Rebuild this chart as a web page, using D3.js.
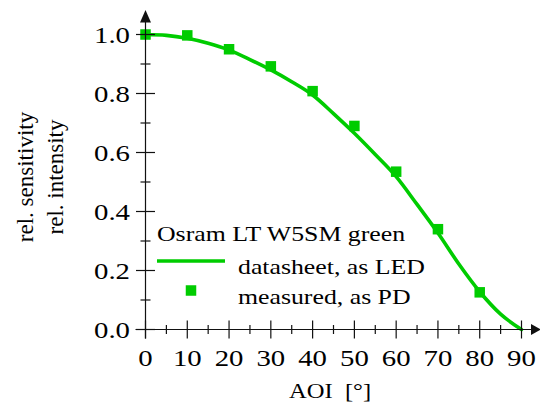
<!DOCTYPE html>
<html>
<head>
<meta charset="utf-8">
<script src="https://cdn.jsdelivr.net/npm/d3@7/dist/d3.min.js"></script>
<style>
  html, body { margin: 0; padding: 0; background: #fff; }
  svg { display: block; font-family: "Liberation Serif", "Times New Roman", serif; }
</style>
</head>
<body>
<svg id="chart" width="540" height="405"></svg>
<script>
// ---- data ----
const curveAOI = [0, 5, 10, 15, 20, 25, 30, 35, 40, 45, 50, 55, 60, 65, 70, 75, 80, 85, 90];
const curveValues = [1.0, 0.997, 0.987, 0.970, 0.947, 0.915, 0.880, 0.840, 0.795, 0.732, 0.665, 0.593, 0.518, 0.424, 0.327, 0.222, 0.128, 0.052, 0.0];
const measuredAOI = [0, 10, 20, 30, 40, 50, 60, 70, 80];
const measuredValues = [1.0, 0.997, 0.950, 0.892, 0.808, 0.690, 0.535, 0.340, 0.126];
const xTicks = [0, 10, 20, 30, 40, 50, 60, 70, 80, 90];
const yTicks = [0.0, 0.2, 0.4, 0.6, 0.8, 1.0];
const legendTitle = "Osram LT W5SM green";
const legendLine = "datasheet, as LED";
const legendSquare = "measured, as PD";
const xLabel = "AOI  [°]";
const yLabel1 = "rel. sensitivity";
const yLabel2 = "rel. intensity";

const green = "#00cc00";
const stretch = 1.2;
const svg = d3.select("#chart");
const x = d3.scaleLinear().domain([0, 90]).range([145.5, 521.5]);
const y = d3.scaleLinear().domain([0, 1]).range([329.5, 34.5]);

// horizontally stretched text helper
function stext(g, tx, ty, size, anchor, str) {
  return g.append("text")
    .attr("transform", `translate(${tx},${ty}) scale(${stretch},1)`)
    .attr("font-size", size).attr("text-anchor", anchor)
    .attr("xml:space", "preserve").style("white-space", "pre")
    .text(str);
}

// curve
const line = d3.line().x((d, i) => x(curveAOI[i])).y(d => y(d)).curve(d3.curveMonotoneX);
svg.append("path").datum(curveValues)
  .attr("d", line).attr("fill", "none").attr("stroke", green).attr("stroke-width", 3.6)
  .attr("stroke-linecap", "round");

// measured squares
const sq = 10.5;
svg.append("g").selectAll("rect").data(measuredValues).join("rect")
  .attr("x", (d, i) => x(measuredAOI[i]) - sq / 2)
  .attr("y", d => y(d) - sq / 2)
  .attr("width", sq).attr("height", sq).attr("fill", green);

// axes
const axisColor = "#111";
const ax = svg.append("g").attr("stroke", axisColor).attr("stroke-width", 1.2);
const x0 = x(0), y0 = y(0);
ax.append("line").attr("x1", x0 - 10).attr("x2", 533).attr("y1", y0).attr("y2", y0);
svg.append("path").attr("d", `M531,${y0 - 5.5}L541,${y0}L531,${y0 + 5.5}Z`).attr("fill", axisColor);
ax.append("line").attr("x1", x0).attr("x2", x0).attr("y1", y0 + 9).attr("y2", 20);
svg.append("path").attr("d", `M${x0 - 5.5},22.5L${x0},10L${x0 + 5.5},22.5Z`).attr("fill", axisColor);

const xMinor = d3.range(5, 90, 10);
ax.selectAll(".xmaj").data(xTicks).join("line").attr("class", "xmaj")
  .attr("x1", d => x(d)).attr("x2", d => x(d)).attr("y1", y0 - 9).attr("y2", y0 + 9);
ax.selectAll(".xmin").data(xMinor).join("line").attr("class", "xmin")
  .attr("x1", d => x(d)).attr("x2", d => x(d)).attr("y1", y0 - 4.5).attr("y2", y0 + 4.5);
const yMinor = d3.range(0.1, 1.0, 0.2);
ax.selectAll(".ymaj").data(yTicks).join("line").attr("class", "ymaj")
  .attr("x1", x0 - 9.5).attr("x2", x0 + 9.5).attr("y1", d => y(d)).attr("y2", d => y(d));
ax.selectAll(".ymin").data(yMinor).join("line").attr("class", "ymin")
  .attr("x1", x0 - 5).attr("x2", x0 + 5).attr("y1", d => y(d)).attr("y2", d => y(d));

// tick labels
const gx = svg.append("g");
xTicks.forEach(d => stext(gx, x(d), 365.5, 24, "middle", String(d)));
const gy = svg.append("g");
yTicks.forEach(d => stext(gy, 130, y(d) + 8.3, 24, "end", d.toFixed(1)));

// axis labels
stext(svg, 330, 398, 20.5, "middle", xLabel);
svg.append("text").attr("transform", "translate(33,177) rotate(-90)").attr("text-anchor", "middle")
  .attr("font-size", 23).text(yLabel1);
svg.append("text").attr("transform", "translate(63,177) rotate(-90)").attr("text-anchor", "middle")
  .attr("font-size", 23).text(yLabel2);

// legend
stext(svg, 157, 241, 21.5, "start", legendTitle);
svg.append("line").attr("x1", 157).attr("x2", 225).attr("y1", 261).attr("y2", 261)
  .attr("stroke", green).attr("stroke-width", 3.6);
stext(svg, 238, 274, 21.5, "start", legendLine);
svg.append("rect").attr("x", 191 - sq / 2).attr("y", 290.5 - sq / 2).attr("width", sq).attr("height", sq).attr("fill", green);
stext(svg, 238, 303.5, 21.5, "start", legendSquare);
</script>
</body>
</html>
